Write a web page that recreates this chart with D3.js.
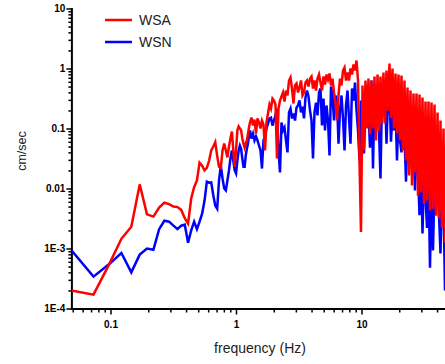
<!DOCTYPE html>
<html>
<head>
<meta charset="utf-8">
<script src="https://cdn.jsdelivr.net/npm/d3@7"></script>
<style>
  body { margin: 0; background: #fff; }
  svg { display: block; font-family: Arial, "Liberation Sans", sans-serif; }
  .domain { stroke-width: 2px; stroke-linecap: square; }
  .tick line { stroke-width: 1.5px; }
</style>
</head>
<body>
<script>
// spectrum bins below ~1.3 Hz (df ~ 0.0244 Hz)
const freqLow = [0.0488, 0.0732, 0.0977, 0.1221, 0.1465, 0.1709, 0.1953, 0.2197, 0.2441, 0.2686,
  0.2930, 0.3174, 0.3418, 0.3662, 0.3906, 0.4150, 0.4395, 0.4639, 0.4883, 0.5127,
  0.5371, 0.5615, 0.5859, 0.6104, 0.6348, 0.6592, 0.6836, 0.7080, 0.7324, 0.7568,
  0.7813, 0.8057, 0.8301, 0.8545, 0.8789, 0.9033, 0.9277, 0.9521, 0.9766, 1.0010,
  1.0254, 1.0498, 1.0742, 1.0986, 1.1230, 1.1475, 1.1719, 1.1963, 1.2207, 1.2451, 1.2695];

const wsaLow = [2.0e-4, 1.7e-4, 5.5e-4, 1.45e-3, 2.3e-3, 0.0117, 3.7e-3, 3.4e-3, 4.8e-3, 5.8e-3,
  5.5e-3, 5.0e-3, 4.9e-3, 4.4e-3, 3.2e-3, 2.6e-3, 6.8e-3, 0.0105, 0.0136, 0.027,
  0.024, 0.020, 0.022, 0.029, 0.043, 0.050, 0.059, 0.035, 0.023, 0.022,
  0.043, 0.056, 0.043, 0.033, 0.050, 0.068, 0.089, 0.043, 0.023, 0.043,
  0.093, 0.108, 0.100, 0.093, 0.068, 0.056, 0.048, 0.056, 0.063, 0.080, 0.104];

const wsnLow = [9.3e-4, 3.4e-4, 5.5e-4, 8.4e-4, 4.0e-4, 7.9e-4, 1.0e-3, 9.5e-4, 2.1e-3, 2.9e-3,
  2.8e-3, 2.4e-3, 2.1e-3, 2.4e-3, 2.5e-3, 1.25e-3, 2.0e-3, 2.8e-3, 2.1e-3, 2.8e-3,
  3.8e-3, 6.3e-3, 0.013, 0.0125, 0.0126, 0.0077, 0.0052, 0.0046, 0.0136, 0.024,
  0.0147, 0.010, 0.0093, 0.0136, 0.020, 0.0316, 0.043, 0.029, 0.020, 0.0178,
  0.029, 0.043, 0.052, 0.046, 0.0316, 0.023, 0.023, 0.0355, 0.046, 0.056, 0.076];

// dense part
const freqHigh = [1.293, 1.329, 1.366, 1.404, 1.444, 1.484, 1.525, 1.568, 1.611, 1.656,
  1.703, 1.750, 1.799, 1.849, 1.901, 1.954, 2.008, 2.064, 2.122, 2.181,
  2.242, 2.305, 2.369, 2.435, 2.503, 2.573, 2.645, 2.719, 2.795, 2.873,
  2.953, 3.036, 3.120, 3.208, 3.296, 3.388, 3.483, 3.580, 3.680, 3.783,
  3.888, 3.997, 4.108, 4.223, 4.341, 4.463, 4.587, 4.714, 4.846, 4.981,
  5.120, 5.263, 5.410, 5.562, 5.716, 5.876, 6.040, 6.209, 6.382, 6.560,
  6.743, 6.931, 7.125, 7.324, 7.528, 7.740, 7.955, 8.176, 8.404, 8.639,
  8.880, 9.128, 9.383, 9.646, 9.909, 10.19, 10.47, 10.76, 11.06, 11.37,
  11.69, 12.02, 12.35, 12.70, 13.05, 13.42, 13.79, 14.17, 14.57, 14.97,
  15.39, 15.82, 16.26, 16.72, 17.18, 17.66, 18.16, 18.66, 19.18, 19.72,
  20.27, 20.84, 21.42, 22.02, 22.63, 23.27, 23.91, 24.58, 25.26, 25.97,
  26.69, 27.44, 28.21, 28.99, 29.80, 30.63, 31.49, 32.37, 33.27, 34.20,
  35.15, 36.13, 37.14, 38.18, 39.25, 40.35, 41.47, 42.62, 43.81, 45.03, 46.29];

const wsaHigh = [0.127, 0.152, 0.112, 0.141, 0.082, 0.147, 0.126, 0.100, 0.136, 0.117,
  0.043, 0.126, 0.178, 0.251, 0.215, 0.316, 0.293, 0.251, 0.0316, 0.215,
  0.293, 0.341, 0.398, 0.282, 0.430, 0.355, 0.631, 0.708, 0.464, 0.261,
  0.521, 0.562, 0.398, 0.482, 0.631, 0.355, 0.398, 0.584, 0.631, 0.501,
  0.681, 0.736, 0.464, 0.631, 0.430, 0.681, 0.794, 0.584, 0.430, 0.736,
  0.541, 0.794, 0.656, 0.825, 0.521, 0.681, 0.398, 0.261, 0.136, 0.355,
  0.681, 0.521, 0.926, 1.04, 0.631, 0.858, 0.631, 1.0, 0.794, 1.17,
  0.926, 1.36, 0.631, 0.0273, 0.00188, 0.521, 0.043, 0.631, 0.100, 0.681,
  0.080, 0.631, 0.100, 0.736, 0.063, 0.794, 0.090, 0.736, 0.120, 0.858,
  0.121, 0.926, 0.200, 1.21, 0.150, 1.0, 0.100, 0.825, 0.0825, 0.794,
  0.0631, 0.764, 0.043, 0.631, 0.0293, 0.482, 0.0165, 0.430, 0.0112, 0.383,
  0.0185, 0.383, 0.0076, 0.369, 0.0086, 0.329, 0.0056, 0.282, 0.0063, 0.282,
  0.0043, 0.271, 0.0046, 0.251, 0.0035, 0.185, 0.0032, 0.136, 0.0022, 0.100, 0.00126];

const wsnHigh = [0.0926, 0.068, 0.082, 0.0631, 0.0736, 0.0631, 0.0521, 0.043, 0.0215, 0.0631,
  0.0764, 0.100, 0.121, 0.147, 0.152, 0.112, 0.136, 0.165, 0.215, 0.043,
  0.0185, 0.126, 0.0926, 0.104, 0.0631, 0.040, 0.185, 0.215, 0.147, 0.178,
  0.136, 0.224, 0.242, 0.293, 0.185, 0.232, 0.147, 0.329, 0.430, 0.341,
  0.200, 0.136, 0.0316, 0.185, 0.270, 0.165, 0.398, 0.464, 0.112, 0.316,
  0.0926, 0.242, 0.136, 0.0355, 0.501, 0.341, 0.136, 0.355, 0.293, 0.056,
  0.200, 0.355, 0.147, 0.043, 0.242, 0.430, 0.147, 0.056, 0.464, 0.293,
  0.584, 0.200, 0.0926, 0.0293, 0.293, 0.136, 0.0383, 0.242, 0.521, 0.200,
  0.048, 0.631, 0.0215, 0.355, 0.136, 0.293, 0.0926, 0.0147, 0.355, 0.165,
  0.464, 0.056, 0.293, 0.398, 0.060, 0.200, 0.0926, 0.242, 0.0293, 0.165,
  0.0631, 0.040, 0.147, 0.0764, 0.013, 0.112, 0.043, 0.0926, 0.0242, 0.0631,
  0.0093, 0.0521, 0.020, 0.0036, 0.0293, 0.00178, 0.0165, 0.0077, 0.0022, 0.0165,
  0.00048, 0.0136, 0.00093, 0.0112, 0.0052, 0.0136, 0.0036, 0.00083, 0.0093, 0.0063, 0.0002];

const xMajor = [0.1, 1, 10];
const xLabels = ['0.1', '1', '10'];
const yMajor = [1e-4, 1e-3, 0.01, 0.1, 1, 10];
const yLabels = ['1E-4', '1E-3', '0.01', '0.1', '1', '10'];

const series = [
  { name: 'WSN', color: '#0000ff', values: wsnLow.concat(wsnHigh) },
  { name: 'WSA', color: '#ff0000', values: wsaLow.concat(wsaHigh) }
];
const freq = freqLow.concat(freqHigh);

const width = 445, height = 364;
const x0 = 71.4, y0 = 308.5;

const svg = d3.select('body').append('svg')
  .attr('width', width)
  .attr('height', height);

const x = d3.scaleLog().domain([0.0488, 50]).range([x0, 449.2]);
const y = d3.scaleLog().domain([1e-4, 10]).range([y0, 8.5]);

const isDecade = t => Math.abs(Math.log10(t) - Math.round(Math.log10(t))) < 1e-6;
const xMinor = x.ticks().filter(t => !isDecade(t));
const yMinor = y.ticks().filter(t => !isDecade(t));

// minor ticks first, no labels
svg.append('g')
  .attr('transform', `translate(0,${y0})`)
  .call(d3.axisBottom(x).tickValues(xMinor).tickSize(4).tickFormat(''))
  .call(g => g.select('.domain').remove());

svg.append('g')
  .attr('transform', `translate(${x0},0)`)
  .call(d3.axisLeft(y).tickValues(yMinor).tickSize(3).tickFormat(''))
  .call(g => g.select('.domain').remove());

const xAxis = svg.append('g')
  .attr('transform', `translate(0,${y0})`)
  .call(d3.axisBottom(x)
    .tickValues(xMajor)
    .tickSizeInner(6)
    .tickSizeOuter(0)
    .tickPadding(6)
    .tickFormat((d, i) => xLabels[i]));

const yAxis = svg.append('g')
  .attr('transform', `translate(${x0},0)`)
  .call(d3.axisLeft(y)
    .tickValues(yMajor)
    .tickSizeInner(5)
    .tickSizeOuter(0)
    .tickPadding(1)
    .tickFormat((d, i) => yLabels[i]));

svg.selectAll('.tick text')
  .attr('font-family', 'Arial, "Liberation Sans", sans-serif')
  .attr('font-size', 10)
  .attr('font-weight', 'bold')
  .attr('fill', '#000');

svg.append('defs').append('clipPath')
  .attr('id', 'plot-clip')
  .append('rect')
  .attr('x', x0).attr('y', 0)
  .attr('width', width - x0).attr('height', y0);

const line = d3.line()
  .x((d, i) => x(freq[i]))
  .y(d => y(d));

svg.append('g')
  .attr('clip-path', 'url(#plot-clip)')
  .selectAll('path')
  .data(series)
  .enter()
  .append('path')
  .attr('class', 'line')
  .attr('d', d => line(d.values))
  .attr('fill', 'none')
  .attr('stroke', d => d.color)
  .attr('stroke-width', 2.5);

// legend
const legend = [
  { name: 'WSA', color: '#ff0000', y: 20 },
  { name: 'WSN', color: '#0000ff', y: 42 }
];
const lg = svg.append('g').selectAll('g').data(legend).enter().append('g');
lg.append('line')
  .attr('x1', 105).attr('x2', 132)
  .attr('y1', d => d.y).attr('y2', d => d.y)
  .attr('stroke', d => d.color)
  .attr('stroke-width', 2.5);
lg.append('text')
  .attr('x', 139)
  .attr('y', d => d.y + 5)
  .attr('font-size', 14)
  .attr('fill', '#222')
  .text(d => d.name);

// axis titles
svg.append('text')
  .attr('x', 260)
  .attr('y', 353)
  .attr('text-anchor', 'middle')
  .attr('font-size', 14)
  .attr('fill', '#222')
  .text('frequency (Hz)');

svg.append('text')
  .attr('transform', 'translate(26,151) rotate(-90)')
  .attr('text-anchor', 'middle')
  .attr('font-size', 12.5)
  .attr('fill', '#222')
  .text('cm/sec');
</script>
</body>
</html>
